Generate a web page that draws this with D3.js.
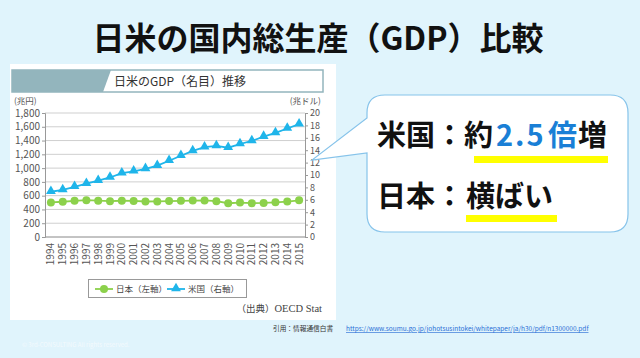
<!DOCTYPE html>
<html><head><meta charset="utf-8">
<script src="https://cdn.jsdelivr.net/npm/d3@7/dist/d3.min.js"></script>
<style>
html,body{margin:0;padding:0;background:#e0f4fc;}
svg{display:block;}
text{font-family:"Noto Sans CJK JP","Noto Sans",sans-serif;}
</style></head>
<body>
<svg id="c" width="640" height="358"></svg>
<script>
const years = [1994,1995,1996,1997,1998,1999,2000,2001,2002,2003,2004,2005,2006,2007,2008,2009,2010,2011,2012,2013,2014,2015];
const japanGDP = [502,512,525,534,527,520,526,523,515,516,521,525,529,531,520,490,500,491,495,503,514,532];
const usGDP = [7.3,7.6,8.1,8.6,9.1,9.6,10.3,10.6,11.0,11.5,12.3,13.1,13.9,14.5,14.7,14.4,15.0,15.5,16.2,16.8,17.5,18.2];
const leftTicks = [0,200,400,600,800,1000,1200,1400,1600,1800];
const rightTicks = [0,2,4,6,8,10,12,14,16,18,20];
const seriesNames = ["日本（左軸）","米国（右軸）"];

const svg = d3.select("#c");
svg.append("rect").attr("width",640).attr("height",358).attr("fill","#e0f4fc");

// title
svg.append("text").attr("x",318).attr("y",50).attr("text-anchor","middle")
  .attr("font-size",32).attr("font-weight",700).attr("fill","#111")
  .text("日米の国内総生産（GDP）比較");

// chart panel
svg.append("rect").attr("x",10).attr("y",64).attr("width",326).attr("height",256).attr("fill","#fff");
// header bar
svg.append("rect").attr("x",12).attr("y",70).attr("width",311).attr("height",22)
  .attr("fill","#fff").attr("stroke","#93b5bd").attr("stroke-width",1.5);
svg.append("path").attr("d","M12,70 L111,70 L103,92 L12,92 Z").attr("fill","#93b5bd");
svg.append("text").attr("x",114).attr("y",86).attr("font-size",12).attr("fill","#333")
  .text("日米のGDP（名目）推移");

const x = d3.scalePoint().domain(years).range([45,305]).padding(0.5);
const yL = d3.scaleLinear().domain([0,1800]).range([237,113]);
const yR = d3.scaleLinear().domain([0,20]).range([237,113]);

// gridlines
svg.append("g").selectAll("line").data(leftTicks).join("line")
  .attr("x1",45).attr("x2",305).attr("y1",d=>yL(d)).attr("y2",d=>yL(d))
  .attr("stroke",d=>d===0?"#888":"#cfcfcf").attr("stroke-width",1);

// left axis
const gL = svg.append("g").attr("transform","translate(45,0)")
  .call(d3.axisLeft(yL).tickValues(leftTicks).tickFormat(d3.format(",")).tickSize(3).tickPadding(2));
gL.select(".domain").attr("stroke","#999");
gL.selectAll(".tick line").attr("stroke","#999");
gL.selectAll("text").attr("font-size",10).attr("fill","#555").attr("font-family","'Noto Sans','Noto Sans CJK JP',sans-serif");

// right axis
const gR = svg.append("g").attr("transform","translate(305,0)")
  .call(d3.axisRight(yR).tickValues(rightTicks).tickSize(3).tickPadding(2));
gR.select(".domain").attr("stroke","#999");
gR.selectAll(".tick line").attr("stroke","#999");
gR.selectAll("text").attr("font-size",9).attr("fill","#555").attr("font-family","'Noto Sans','Noto Sans CJK JP',sans-serif");

// unit labels
svg.append("text").attr("x",14).attr("y",104).attr("font-size",8.5).attr("fill","#555").text("(兆円)");
svg.append("text").attr("x",321).attr("y",104).attr("text-anchor","end").attr("font-size",8.5).attr("fill","#555").text("(兆ドル)");

// x axis labels
svg.append("g").selectAll("text").data(years).join("text")
  .attr("transform",d=>`translate(${x(d)+3.5},243) rotate(-90)`)
  .attr("text-anchor","end").attr("font-size",10).attr("fill","#555")
  .attr("font-family","'Noto Sans',sans-serif").text(d=>d);

const green = "#8cd14b", blue = "#1fb5ea";
// Japan
svg.append("path").datum(japanGDP.map((v,i)=>[years[i],v]))
  .attr("fill","none").attr("stroke",green).attr("stroke-width",1.8)
  .attr("d",d3.line().x(d=>x(d[0])).y(d=>yL(d[1])));
svg.append("g").selectAll("circle").data(japanGDP).join("circle")
  .attr("cx",(d,i)=>x(years[i])).attr("cy",d=>yL(d)).attr("r",4).attr("fill",green);
// US
svg.append("path").datum(usGDP.map((v,i)=>[years[i],v]))
  .attr("fill","none").attr("stroke",blue).attr("stroke-width",1.8)
  .attr("d",d3.line().x(d=>x(d[0])).y(d=>yR(d[1])));
const tri = d3.symbol().type(d3.symbolTriangle).size(42);
svg.append("g").selectAll("path").data(usGDP).join("path")
  .attr("transform",(d,i)=>`translate(${x(years[i])},${yR(d)-0.5})`).attr("d",tri).attr("fill",blue);

// legend
svg.append("rect").attr("x",88.5).attr("y",279.5).attr("width",158).attr("height",18)
  .attr("fill","#fff").attr("stroke","#999").attr("stroke-width",1);
svg.append("line").attr("x1",95).attr("x2",113).attr("y1",289).attr("y2",289).attr("stroke",green).attr("stroke-width",1.8);
svg.append("circle").attr("cx",104).attr("cy",289).attr("r",4).attr("fill",green);
svg.append("text").attr("x",116).attr("y",292).attr("font-size",8.5).attr("fill","#444").text(seriesNames[0]);
svg.append("line").attr("x1",167).attr("x2",185).attr("y1",289).attr("y2",289).attr("stroke",blue).attr("stroke-width",1.8);
svg.append("path").attr("transform","translate(176,288.5)").attr("d",tri).attr("fill",blue);
svg.append("text").attr("x",188).attr("y",292).attr("font-size",8.5).attr("fill","#444").text(seriesNames[1]);

// source
const src = svg.append("text").attr("x",322).attr("y",312).attr("text-anchor","end").attr("font-size",9.5).attr("fill","#444");
src.append("tspan").text("（出典）");
src.append("tspan").attr("font-family","'Liberation Serif',serif").attr("font-size",10.5).text("OECD Stat");

// citation
svg.append("text").attr("x",273).attr("y",331).attr("font-size",6.7).attr("fill","#333").text("引用：情報通信白書");
svg.append("text").attr("x",346).attr("y",331).attr("font-size",6.5).attr("fill","#2a6fd6")
  .attr("text-decoration","underline").attr("font-family","'Noto Sans',sans-serif")
  .text("https://www.soumu.go.jp/johotsusintokei/whitepaper/ja/h30/pdf/n1300000.pdf");

// copyright
svg.append("text").attr("x",22).attr("y",347).attr("font-size",6).attr("fill","#f3fafc")
  .attr("font-family","'Noto Sans',sans-serif").text("© 3rd-CONSULTING All rights reserved.");

// callout
svg.append("path")
  .attr("d","M385,95 L610,95 Q628,95 628,113 L628,214 Q628,232 610,232 L385,232 Q367,232 367,214 L367,153 L312,160 L367,118 L367,113 Q367,95 385,95 Z")
  .attr("fill","#fff").attr("stroke","#86c3ea").attr("stroke-width",1.2);

svg.append("rect").attr("x",474).attr("y",156).attr("width",134).attr("height",7).attr("fill","#ffff00");
svg.append("rect").attr("x",466).attr("y",215).attr("width",91).attr("height",7).attr("fill","#ffff00");

const big = 29;
const t1 = svg.append("text").attr("y",146).attr("font-size",big).attr("font-weight",700).attr("fill","#111");
t1.append("tspan").attr("x",377).text("米国：約");
t1.append("tspan").attr("x",496).attr("fill","#1a7fd6").attr("letter-spacing",2).text("2.5");
t1.append("tspan").attr("x",548).attr("fill","#1a7fd6").text("倍");
t1.append("tspan").attr("x",578).text("増");
const t2 = svg.append("text").attr("y",207).attr("font-size",big).attr("font-weight",700).attr("fill","#111");
t2.append("tspan").attr("x",377).text("日本：");
t2.append("tspan").attr("x",466).text("横ばい");
</script>
</body></html>
